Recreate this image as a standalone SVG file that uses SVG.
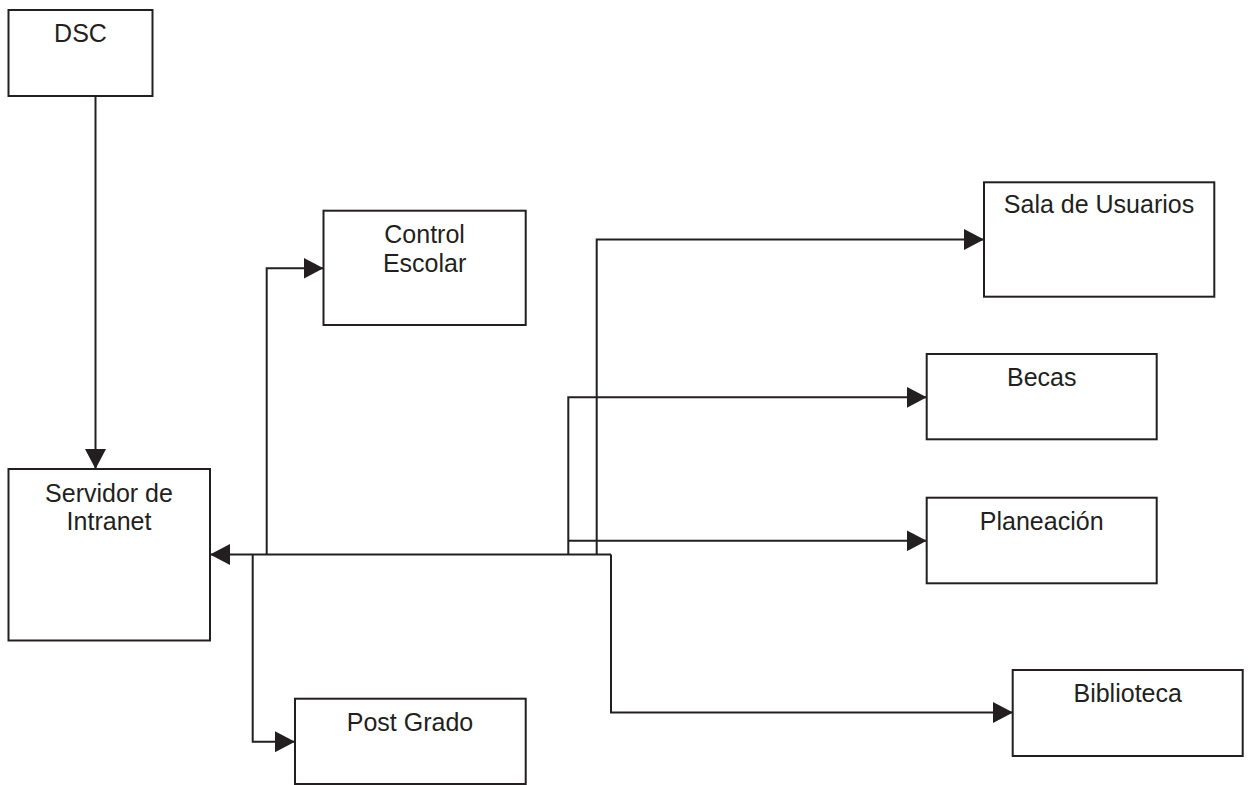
<svg xmlns="http://www.w3.org/2000/svg" width="1248" height="785" viewBox="0 0 1248 785">
<style>
.box{fill:#fff;stroke:#231f20;stroke-width:2}
.lbl{font-family:"Liberation Sans",Arial,sans-serif;font-size:25px;fill:#231f20;text-anchor:middle}
.con{fill:none;stroke:#231f20;stroke-width:2}
</style>
<defs>
<marker id="arr" markerUnits="userSpaceOnUse" markerWidth="21" markerHeight="21" refX="20" refY="10.5" orient="auto" viewBox="0 0 21 21">
<path d="M0,0 L20,10.5 L0,21 z" fill="#231f20"/>
</marker>
</defs>
<rect width="1248" height="785" fill="#fff"/>
<g id="connectors">
<path class="con" d="M95.5,96 V469" marker-end="url(#arr)"/>
<path class="con" d="M611,554.5 H210" marker-end="url(#arr)"/>
<path class="con" d="M611,554.5 V712.5 H1013" marker-end="url(#arr)"/>
<path class="con" d="M266.7,554.5 V268.3 H323.5" marker-end="url(#arr)"/>
<path class="con" d="M252.7,554.5 V741.7 H295" marker-end="url(#arr)"/>
<path class="con" d="M596.7,554.5 V239.5 H984" marker-end="url(#arr)"/>
<path class="con" d="M568.3,554.5 V397.3 H926.7" marker-end="url(#arr)"/>
<path class="con" d="M568.3,540.8 H926.7" marker-end="url(#arr)"/>
</g>
<g id="dsc">
<rect class="box" x="8.5" y="10" width="144" height="86"/>
<text class="lbl" x="80.5" y="42">DSC</text>
</g>
<g id="servidor">
<rect class="box" x="8.5" y="469" width="201.5" height="171.5"/>
<text class="lbl" x="109" y="501.7">Servidor de</text>
<text class="lbl" x="109" y="530">Intranet</text>
</g>
<g id="control">
<rect class="box" x="323.5" y="210.7" width="202.2" height="114.3"/>
<text class="lbl" x="424.6" y="243">Control</text>
<text class="lbl" x="424.6" y="271.7">Escolar</text>
</g>
<g id="postgrado">
<rect class="box" x="295" y="698.7" width="230.7" height="85.3"/>
<text class="lbl" x="410" y="730.7">Post Grado</text>
</g>
<g id="sala">
<rect class="box" x="984" y="182.3" width="230.3" height="114.4"/>
<text class="lbl" x="1099" y="213.3">Sala de Usuarios</text>
</g>
<g id="becas">
<rect class="box" x="926.7" y="354" width="230" height="85.3"/>
<text class="lbl" x="1041.7" y="385.7">Becas</text>
</g>
<g id="planeacion">
<rect class="box" x="926.7" y="497.7" width="230" height="85.6"/>
<text class="lbl" x="1041.7" y="530">Planeación</text>
</g>
<g id="biblioteca">
<rect class="box" x="1012.7" y="670" width="230" height="86"/>
<text class="lbl" x="1127.7" y="701.7">Biblioteca</text>
</g>
</svg>
